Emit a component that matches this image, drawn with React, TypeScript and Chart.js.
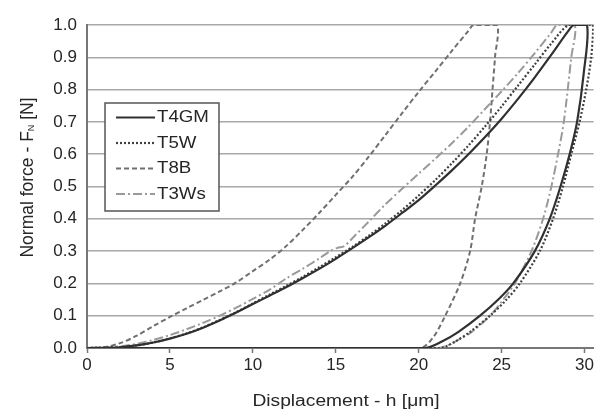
import React, { useEffect, useRef } from 'react';
import { Chart, registerables } from 'chart.js';

Chart.register(...registerables);

// ---------- data ----------
const seriesNames = ['T4GM', 'T5W', 'T8B', 'T3Ws'];

const t4gmX = [0, 1, 2, 3, 4, 5, 6, 7, 8, 8.6, 10, 11, 12, 13, 14, 15, 16, 17, 18, 19, 20, 21, 22, 23, 24, 25, 26, 27, 28, 29, 29.35, 30.15, 29.95, 29.55, 29.1, 28.55, 27.9, 27.0, 25.7, 24.8, 23.7, 22.4, 21.4, 20.4, 10, 1];
const t4gmY = [0, 0.0005, 0.0024, 0.008, 0.017, 0.029, 0.044, 0.063, 0.085, 0.1, 0.136, 0.162, 0.188, 0.216, 0.245, 0.276, 0.309, 0.343, 0.379, 0.418, 0.458, 0.503, 0.55, 0.6, 0.653, 0.71, 0.772, 0.838, 0.908, 0.98, 1.0, 1.0, 0.85, 0.7, 0.6, 0.5, 0.4, 0.3, 0.2, 0.15, 0.1, 0.05, 0.02, 0, 0, 0];

const t5wX = [0, 1, 2, 3, 4, 5, 6, 7, 8, 9, 10, 11, 12, 13, 14, 15, 16, 17, 18, 19, 20, 21, 22, 23, 24, 25, 26, 27, 28, 29.05, 30.5, 30.4, 30.1, 29.7, 29.2, 28.7, 28.1, 27.3, 26.1, 25.3, 24.3, 23.1, 22.2, 21.3, 10, 1];
const t5wY = [0, 0.0005, 0.0025, 0.008, 0.017, 0.03, 0.045, 0.064, 0.087, 0.111, 0.138, 0.165, 0.192, 0.22, 0.25, 0.281, 0.313, 0.348, 0.386, 0.427, 0.472, 0.52, 0.572, 0.627, 0.686, 0.748, 0.813, 0.878, 0.943, 1.0, 1.0, 0.9, 0.8, 0.7, 0.6, 0.5, 0.4, 0.3, 0.2, 0.15, 0.1, 0.05, 0.02, 0, 0, 0];

const t8bX = [0, 1, 2, 3, 4, 5, 6, 7, 8, 9, 10, 11, 12, 13, 14, 15, 16, 17, 18, 19, 20, 21, 22, 23, 23.3, 24.7, 24.6, 24.45, 24.3, 24.1, 23.8, 23.4, 23.1, 22.5, 21.6, 20.9, 20.1, 10, 1];
const t8bY = [0, 0.002, 0.015, 0.038, 0.068, 0.096, 0.123, 0.149, 0.175, 0.203, 0.238, 0.273, 0.315, 0.365, 0.418, 0.474, 0.53, 0.593, 0.66, 0.727, 0.793, 0.856, 0.92, 0.982, 1.0, 1.0, 0.9, 0.8, 0.7, 0.6, 0.5, 0.4, 0.3, 0.2, 0.1, 0.035, 0, 0, 0];

const t3wsX = [0, 1, 2, 3, 4, 5, 6, 7, 8, 9, 10, 11, 12, 13, 14, 14.6, 15.1, 15.5, 16, 17, 18, 19, 20, 21, 22, 23, 24, 25, 26, 27, 28, 28.35, 29.4, 29.2, 28.75, 28.4, 28.0, 27.5, 26.8, 25.8, 25.1, 24.3, 23.2, 22.2, 21.2, 10, 1];
const t3wsY = [0, 0.001, 0.005, 0.013, 0.025, 0.04, 0.058, 0.078, 0.1, 0.125, 0.152, 0.18, 0.215, 0.245, 0.277, 0.298, 0.31, 0.315, 0.34, 0.392, 0.445, 0.493, 0.54, 0.586, 0.634, 0.685, 0.74, 0.795, 0.852, 0.913, 0.977, 1.0, 1.0, 0.9, 0.7, 0.6, 0.5, 0.4, 0.3, 0.2, 0.15, 0.1, 0.05, 0.02, 0, 0, 0];

const xTicks = [0, 5, 10, 15, 20, 25, 30];
const yTicks = [0, 0.1, 0.2, 0.3, 0.4, 0.5, 0.6, 0.7, 0.8, 0.9, 1.0];
const xTitle = 'Displacement - h [μm]';
const yTitleMain = 'Normal force - F';
const yTitleSub = 'N';
const yTitleTail = ' [N]';

// ---------- styles ----------
const FONT = '"Liberation Sans", Arial, Helvetica, sans-serif';
const X_MIN = 0;
const X_MAX = 30.55;
const TEXT = '#262626';

const styles = [
  { color: '#303030', width: 2.2, dash: [] as number[] },
  { color: '#404040', width: 2.2, dash: [2, 2] },
  { color: '#707070', width: 2, dash: [5, 3] },
  { color: '#9a9a9a', width: 2, dash: [9, 3, 2, 3] },
];

const zip = (xs: number[], ys: number[]) => xs.map((x, i) => ({ x, y: ys[i] }));
const seriesData = [zip(t4gmX, t4gmY), zip(t5wX, t5wY), zip(t8bX, t8bY), zip(t3wsX, t3wsY)];

const overlayPlugin = {
  id: 'overlay',
  afterDraw(chart: any) {
    const ctx: CanvasRenderingContext2D = chart.ctx;
    ctx.save();
    // legend box
    ctx.fillStyle = '#ffffff';
    ctx.fillRect(105, 103, 114, 108);
    ctx.strokeStyle = '#555555';
    ctx.lineWidth = 1.5;
    ctx.setLineDash([]);
    ctx.strokeRect(105, 103, 114, 108);
    chart.data.datasets.forEach((ds: any, i: number) => {
      const y = 117.5 + i * 25.5;
      ctx.beginPath();
      ctx.setLineDash(ds.borderDash || []);
      ctx.strokeStyle = ds.borderColor;
      ctx.lineWidth = ds.borderWidth;
      ctx.moveTo(116, y);
      ctx.lineTo(155, y);
      ctx.stroke();
      ctx.setLineDash([]);
      ctx.save();
      ctx.translate(157, y);
      ctx.scale(1.1, 1);
      ctx.font = `17px ${FONT}`;
      ctx.fillStyle = TEXT;
      ctx.textBaseline = 'middle';
      ctx.textAlign = 'left';
      ctx.fillText(ds.label, 0, 0);
      ctx.restore();
    });
    // x title
    ctx.save();
    ctx.translate(346, 406);
    ctx.scale(1.2, 1);
    ctx.font = `16px ${FONT}`;
    ctx.fillStyle = TEXT;
    ctx.textAlign = 'center';
    ctx.textBaseline = 'alphabetic';
    ctx.fillText(xTitle, 0, 0);
    ctx.restore();
    // y title with subscript
    ctx.save();
    ctx.translate(33, 177.5);
    ctx.rotate(-Math.PI / 2);
    ctx.fillStyle = TEXT;
    ctx.textAlign = 'left';
    ctx.textBaseline = 'alphabetic';
    ctx.font = `17.5px ${FONT}`;
    const w1 = ctx.measureText(yTitleMain).width;
    const w3 = ctx.measureText(yTitleTail).width;
    ctx.font = `9px ${FONT}`;
    const w2 = ctx.measureText(yTitleSub).width;
    let x = -(w1 + w2 + w3) / 2;
    ctx.font = `17.5px ${FONT}`;
    ctx.fillText(yTitleMain, x, 0);
    x += w1;
    ctx.font = `9px ${FONT}`;
    ctx.fillText(yTitleSub, x, 1);
    x += w2;
    ctx.font = `17.5px ${FONT}`;
    ctx.fillText(yTitleTail, x, 0);
    ctx.restore();
    ctx.restore();
  },
};

export default function App() {
  const ref = useRef<HTMLCanvasElement | null>(null);
  useEffect(() => {
    document.body.style.margin = '0';
    const canvas = ref.current;
    if (!canvas) return;
    const chart = new Chart(canvas, {
      type: 'line',
      data: {
        datasets: seriesNames.map((name, i) => ({
          label: name,
          data: seriesData[i],
          borderColor: styles[i].color,
          backgroundColor: styles[i].color,
          borderWidth: styles[i].width,
          borderDash: styles[i].dash,
          pointRadius: 0,
          fill: false,
          tension: 0.3,
        })),
      },
      options: {
        animation: false,
        responsive: false,
        maintainAspectRatio: false,
        layout: { padding: { top: 25, right: 0, bottom: 0, left: 0 } },
        plugins: { legend: { display: false }, tooltip: { enabled: false } },
        scales: {
          x: {
            type: 'linear',
            min: X_MIN,
            max: X_MAX,
            afterBuildTicks: (s: any) => {
              s.ticks = xTicks.map((v) => ({ value: v }));
            },
            afterFit: (s: any) => {
              s.height = 62;
            },
            grid: { drawOnChartArea: false, drawTicks: true, tickLength: 5, tickColor: '#777777', tickWidth: 1.5 },
            border: { color: '#777777', width: 2 },
            ticks: { font: { family: FONT, size: 17 }, color: TEXT, padding: 2, maxRotation: 0, autoSkip: false },
          },
          y: {
            min: 0,
            max: 1,
            afterBuildTicks: (s: any) => {
              s.ticks = yTicks.map((v) => ({ value: v }));
            },
            afterFit: (s: any) => {
              s.width = 87;
            },
            grid: { color: '#a8a8a8', lineWidth: 1.5, drawTicks: false },
            border: { color: '#777777', width: 2 },
            ticks: {
              font: { family: FONT, size: 17 },
              color: TEXT,
              padding: 10,
              callback: (v: any) => Number(v).toFixed(1),
            },
          },
        },
      },
      plugins: [overlayPlugin],
    } as any);
    return () => chart.destroy();
  }, []);
  return <canvas ref={ref} width={596} height={410} style={{ display: 'block', width: 596, height: 410 }} />;
}
